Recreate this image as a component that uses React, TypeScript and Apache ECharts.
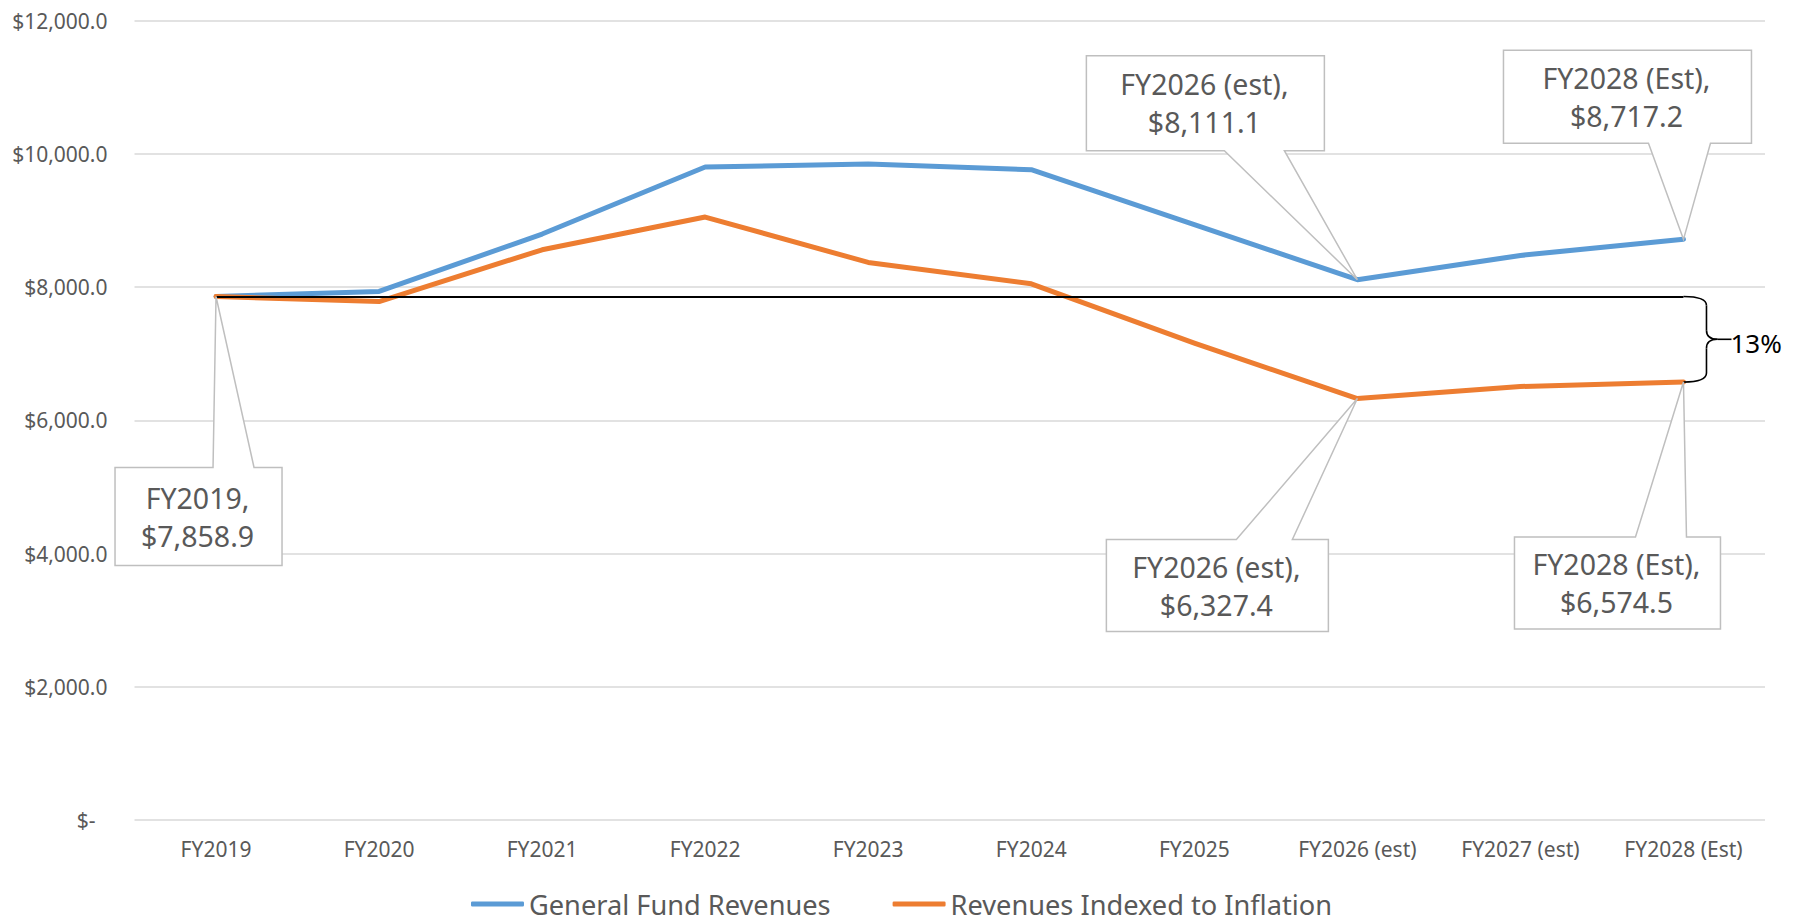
import React, { useEffect, useRef } from "react";
import * as echarts from "echarts";

// ---------- data ----------
const categories = [
  "FY2019",
  "FY2020",
  "FY2021",
  "FY2022",
  "FY2023",
  "FY2024",
  "FY2025",
  "FY2026 (est)",
  "FY2027 (est)",
  "FY2028 (Est)",
];
const generalFundRevenues = [7858.9, 7935, 8797, 9803, 9848, 9763, 8940, 8111.1, 8476, 8717.2];
const revenuesIndexedToInflation = [7858.9, 7784, 8561, 9052, 8371, 8050, 7159, 6327.4, 6508, 6574.5];
const seriesNames = ["General Fund Revenues", "Revenues Indexed to Inflation"];
const yMin = 0;
const yMax = 12000;
const yInterval = 2000;
const gapLabel = "13%";

// callouts: which series / category, and layout offsets relative to the point
const callouts = [
  { s: 0, i: 0, box: [-101, 66, 171, 269], wedge: [-3, 38], side: "top" },
  { s: 0, i: 7, box: [-271, -33, -224, -129], wedge: [-133, -73], side: "bottom" },
  { s: 0, i: 9, box: [-180, 68, -189, -96], wedge: [-35, 27], side: "bottom" },
  { s: 1, i: 7, box: [-251, -29, 141, 233], wedge: [-121, -65], side: "top" },
  { s: 1, i: 9, box: [-169, 37, 155, 247], wedge: [-48, 3], side: "top" },
];

const FONT = "'Noto Sans', 'Open Sans', sans-serif";
const TEXT = "#595959";
const BLUE = "#5B9BD5";
const ORANGE = "#ED7D31";

const fmtMoney = (v: number) =>
  "$" + v.toLocaleString("en-US", { minimumFractionDigits: 1, maximumFractionDigits: 1 });

export default function App() {
  const ref = useRef<HTMLDivElement>(null);

  useEffect(() => {
    if (!ref.current) return;
    const chart = echarts.init(ref.current, null, { renderer: "svg" });
    const allSeries = [generalFundRevenues, revenuesIndexedToInflation];
    const baseline = generalFundRevenues[0];
    const last = categories.length - 1;

    chart.setOption({
      animation: false,
      textStyle: { fontFamily: FONT },
      grid: { left: 134.5, right: 38, top: 20.7, bottom: 103, containLabel: false },
      legend: {
        data: seriesNames,
        left: "center",
        top: 890,
        padding: 0,
        icon: "roundRect",
        itemWidth: 53,
        itemHeight: 5,
        itemGap: 62,
        selectedMode: false,
        textStyle: { fontSize: 27.2, color: TEXT, fontFamily: FONT, lineHeight: 28 },
      },
      xAxis: {
        type: "category",
        data: categories,
        boundaryGap: true,
        axisLine: { show: false },
        axisTick: { show: false },
        axisLabel: { color: TEXT, fontSize: 21, margin: 18, fontFamily: FONT, interval: 0 },
      },
      yAxis: {
        type: "value",
        min: yMin,
        max: yMax,
        interval: yInterval,
        axisLine: { show: false },
        axisTick: { show: false },
        splitLine: { lineStyle: { color: "#D9D9D9", width: 1.5 } },
        axisLabel: {
          color: TEXT,
          fontSize: 21,
          margin: 27,
          fontFamily: FONT,
          formatter: (v: number) => (v === 0 ? "{z|$-}" : fmtMoney(v)),
          rich: { z: { color: TEXT, fontSize: 21, fontFamily: FONT, padding: [0, 12, 0, 0] } },
        },
      },
      series: [
        {
          name: seriesNames[0],
          type: "line",
          data: generalFundRevenues,
          showSymbol: false,
          symbol: "none",
          lineStyle: { color: BLUE, width: 5, cap: "round", join: "round" },
          itemStyle: { color: BLUE },
          z: 2,
        },
        {
          name: seriesNames[1],
          type: "line",
          data: revenuesIndexedToInflation,
          showSymbol: false,
          symbol: "none",
          lineStyle: { color: ORANGE, width: 5, cap: "round", join: "round" },
          itemStyle: { color: ORANGE },
          z: 3,
          markLine: {
            silent: true,
            symbol: ["none", "none"],
            label: { show: false },
            lineStyle: { color: "#000000", width: 2, type: "solid" },
            data: [[{ coord: [categories[0], baseline] }, { coord: [categories[last], baseline] }]],
          },
        },
      ],
    });

    const px = (i: number, v: number) =>
      chart.convertToPixel({ xAxisIndex: 0, yAxisIndex: 0 }, [categories[i], v]) as number[];

    const graphics: any[] = [];
    callouts.forEach((c, k) => {
      const v = allSeries[c.s][c.i];
      const [x, y] = px(c.i, v);
      const L = x + c.box[0];
      const R = x + c.box[1];
      const T = y + c.box[2];
      const B = y + c.box[3];
      const w1 = x + c.wedge[0];
      const w2 = x + c.wedge[1];
      const pts =
        c.side === "top"
          ? [[L, T], [w1, T], [x, y], [w2, T], [R, T], [R, B], [L, B]]
          : [[L, T], [R, T], [R, B], [w2, B], [x, y], [w1, B], [L, B]];
      graphics.push({
        type: "polygon",
        id: "callout-box-" + k,
        z: 100,
        shape: { points: pts },
        style: { fill: "#FFFFFF", stroke: "#BFBFBF", lineWidth: 1.5 },
      });
      graphics.push({
        type: "text",
        id: "callout-text-" + k,
        z: 101,
        x: (L + R) / 2 - 1,
        y: (T + B) / 2,
        style: {
          text: categories[c.i] + ",\n" + fmtMoney(v),
          fontSize: 28.5,
          fontFamily: FONT,
          fill: TEXT,
          align: "center",
          verticalAlign: "middle",
          lineHeight: 38,
        },
      });
    });

    // brace between baseline and last inflation-indexed value
    const [bx, by0] = px(last, baseline);
    const [, by1] = px(last, revenuesIndexedToInflation[last]);
    const xm = bx + 23;
    const r = 9;
    const ym = (by0 + by1) / 2;
    const bStyle = { stroke: "#000000", lineWidth: 1.6, fill: "none" };
    graphics.push(
      { type: "bezierCurve", z: 90, shape: { x1: bx, y1: by0, cpx1: xm, cpy1: by0, x2: xm, y2: by0 + r }, style: bStyle },
      { type: "line", z: 90, shape: { x1: xm, y1: by0 + r, x2: xm, y2: ym - r }, style: bStyle },
      { type: "bezierCurve", z: 90, shape: { x1: xm, y1: ym - r, cpx1: xm, cpy1: ym, x2: xm + r + 2, y2: ym }, style: bStyle },
      { type: "bezierCurve", z: 90, shape: { x1: xm + r + 2, y1: ym, cpx1: xm, cpy1: ym, x2: xm, y2: ym + r }, style: bStyle },
      { type: "line", z: 90, shape: { x1: xm, y1: ym + r, x2: xm, y2: by1 - r }, style: bStyle },
      { type: "bezierCurve", z: 90, shape: { x1: xm, y1: by1 - r, cpx1: xm, cpy1: by1, x2: bx, y2: by1 }, style: bStyle },
      { type: "line", z: 90, shape: { x1: xm + r + 2, y1: ym, x2: xm + r + 16, y2: ym }, style: bStyle },
      {
        type: "text",
        z: 91,
        x: xm + r + 15,
        y: ym + 4,
        style: {
          text: gapLabel,
          fontSize: 26,
          fontFamily: FONT,
          fill: "#000000",
          align: "left",
          verticalAlign: "middle",
        },
      }
    );

    chart.setOption({ graphic: graphics });

    return () => {
      chart.dispose();
    };
  }, []);

  return (
    <div
      ref={ref}
      style={{ position: "absolute", left: 0, top: 0, width: 1803, height: 923, background: "#FFFFFF" }}
    />
  );
}
